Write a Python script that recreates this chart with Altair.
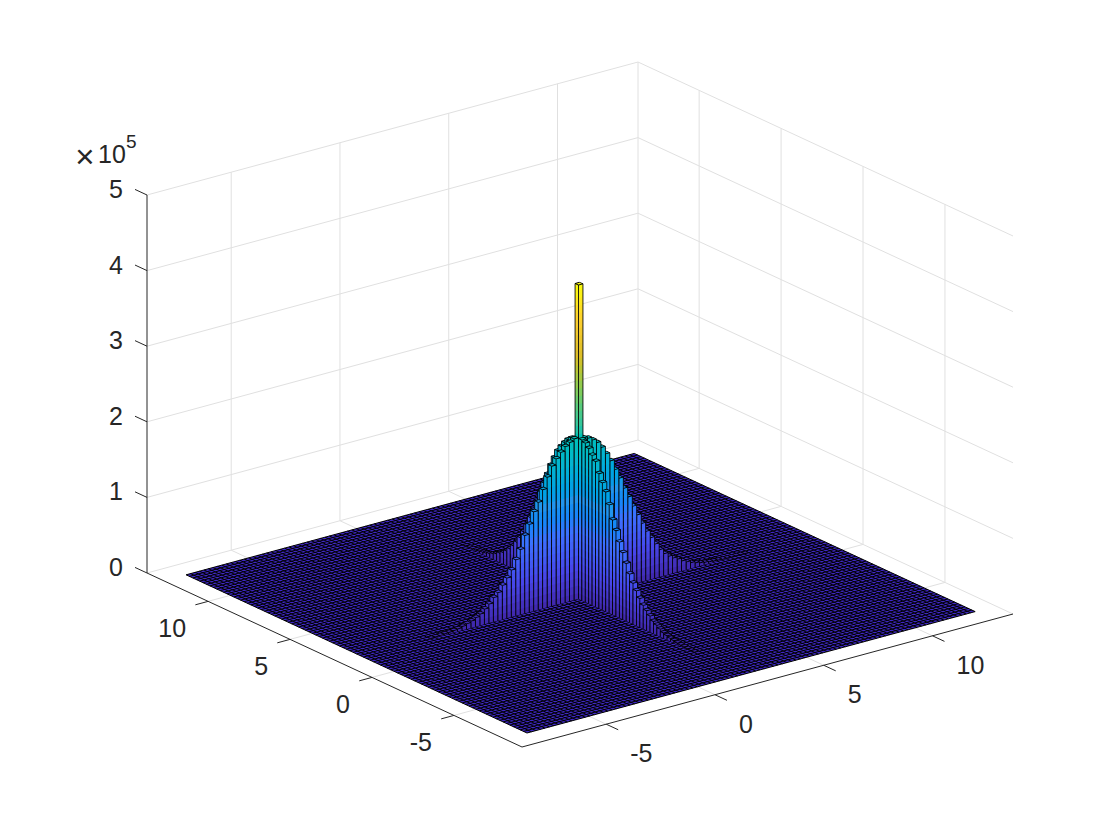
import altair as alt
import pandas as pd

# Heights (units of 1e5) of the bins along each arm of the cross, from the centre outward
arm_x_neg = [2.13,2.10,2.06,2.00,1.93,1.85,1.72,1.57,1.42,1.31,1.16,1.03,.86,.74,.62,.53,.45,.37,.32,.25,.20,.15,.12,.09,.07,.05,.034,.026,.02,.015,.011,.008,.005]
arm_y_neg = [2.12,2.10,2.05,1.98,1.92,1.78,1.68,1.58,1.43,1.25,1.13,1.00,.88,.76,.64,.54,.46,.38,.31,.26,.21,.16,.13,.10,.07,.055,.04,.03,.02,.014,.01,.008,.006,.004,.003]
arm_x_pos = [2.11,2.09,2.05,2.00,1.92,1.82,1.71,1.58,1.45,1.30,1.17,1.03,.90,.77,.65,.55,.45,.36,.29,.24,.20,.17,.13,.10,.075,.055,.04,.03,.021,.015,.011,.008,.006,.005,.004,.003,.002]
arm_y_pos = [2.10,2.08,2.04,1.98,1.91,1.83,1.72,1.60,1.46,1.32,1.18,1.04,.90,.78,.66,.55,.45,.37,.30,.24,.19,.15,.12,.09,.07,.05,.035,.027,.02,.015,.011,.008,.006]
spike = 4.15
N_BINS = 100
CENTRE_BIN = 48
z_ticks = [0, 1, 2, 3, 4, 5]
x_ticks = [-5, 0, 5, 10]
y_ticks = [10, 5, 0, -5]
parula_pos = [-1, -0.001, 0, 1/9, 2/9, 3/9, 4/9, 5/9, 6/9, 7/9, 8/9, 1]
parula = ["#000000", "#000000", "#3e26a8", "#4747eb", "#3e6fff", "#2796eb", "#08b4d0", "#31c69f",
          "#81cc59", "#dcbd29", "#fcce2e", "#f9fb0e"]

INK = "#262626"
GRID = "#e0e0e0"
FONT = "Liberation Sans"

# axes box projection
OX, OY = 522.0, 747.0
AX = (491.0, -133.0)
AY = (-375.0, -174.0)
ZPX = 75.6
F0 = (.0452, .0459)
F1 = (.958, .955)


def proj(fx, fy, z=0.0):
    return (OX + fx * AX[0] + fy * AY[0], OY + fx * AX[1] + fy * AY[1] - z * ZPX)


def xf(v):
    return .393 + .0443 * v


def yf(v):
    return .400 + .0437 * v


def fi(i):
    return F0[0] + (F1[0] - F0[0]) * i / N_BINS


def fj(j):
    return F0[1] + (F1[1] - F0[1]) * j / N_BINS


grid_rows, axis_rows, net_rows, face_rows = [], [], [], []
_c = [0]


def seg(rows, a, b):
    _c[0] += 1
    rows.append({"sx": a[0], "sy": a[1], "id": _c[0]})
    rows.append({"sx": b[0], "sy": b[1], "id": _c[0]})


def quad(rows, pts, v):
    xs = sorted({round(p[0], 3) for p in pts})
    if len(xs) < 2:
        return
    _c[0] += 1
    n = len(pts)
    for x in xs:
        ys = []
        for k in range(n):
            a, b = pts[k], pts[(k + 1) % n]
            lo, hi = min(a[0], b[0]), max(a[0], b[0])
            if lo - 1e-3 <= x <= hi + 1e-3:
                if abs(b[0] - a[0]) < 1e-6:
                    ys += [a[1], b[1]]
                else:
                    t = min(1, max(0, (x - a[0]) / (b[0] - a[0])))
                    ys.append(a[1] + t * (b[1] - a[1]))
        rows.append({"sx": x, "sy": min(ys), "sy2": max(ys), "id": _c[0], "v": v})


def edge(a, b, w=0.85):
    dx, dy = b[0] - a[0], b[1] - a[1]
    L = (dx * dx + dy * dy) ** .5 or 1
    nx, ny = -dy / L * w / 2, dx / L * w / 2
    quad(face_rows, [(a[0] + nx, a[1] + ny), (b[0] + nx, b[1] + ny),
                     (b[0] - nx, b[1] - ny), (a[0] - nx, a[1] - ny)], -1)


def bar(i, j, h):
    x0, x1, y0, y1 = fi(i), fi(i + 1), fj(j), fj(j + 1)
    step = .1
    z = 0.0
    while z < h - 1e-9:
        zt = min(h, z + step)
        zb = max(0, z - .025)
        mid = (z + zt) / 2 / spike
        quad(face_rows, [proj(x0, y1, zb), proj(x0, y0, zb), proj(x0, y0, zt), proj(x0, y1, zt)], mid)
        quad(face_rows, [proj(x0, y0, zb), proj(x1, y0, zb), proj(x1, y0, zt), proj(x0, y0, zt)], mid)
        z = zt
    quad(face_rows, [proj(x0, y0, h), proj(x1, y0, h), proj(x1, y1, h), proj(x0, y1, h)], 1.0 * h / spike)
    edge(proj(x0, y1, 0), proj(x0, y1, h))
    edge(proj(x0, y0, 0), proj(x0, y0, h))
    edge(proj(x1, y0, 0), proj(x1, y0, h))
    corners = [proj(x0, y0, h), proj(x1, y0, h), proj(x1, y1, h), proj(x0, y1, h)]
    for k in range(4):
        edge(corners[k], corners[(k + 1) % 4])


for z in z_ticks:
    seg(grid_rows, proj(0, 1, z), proj(1, 1, z))
    seg(grid_rows, proj(1, 1, z), proj(1, 0, z))
seg(grid_rows, proj(1, 1, 0), proj(1, 1, 5))
for v in x_ticks:
    seg(grid_rows, proj(xf(v), 0, 0), proj(xf(v), 1, 0))
    seg(grid_rows, proj(xf(v), 1, 0), proj(xf(v), 1, 5))
for v in y_ticks:
    seg(grid_rows, proj(0, yf(v), 0), proj(1, yf(v), 0))
    seg(grid_rows, proj(1, yf(v), 0), proj(1, yf(v), 5))

seg(axis_rows, proj(0, 1, 0), proj(0, 1, 5))
seg(axis_rows, proj(0, 1, 0), proj(0, 0, 0))
seg(axis_rows, proj(0, 0, 0), proj(1, 0, 0))
TX, TY = .026, .032
for z in z_ticks:
    seg(axis_rows, proj(0, 1, z), proj(0, 1 + TY, z))
for v in x_ticks:
    seg(axis_rows, proj(xf(v), 0), proj(xf(v), -TY))
for v in y_ticks:
    seg(axis_rows, proj(0, yf(v)), proj(-TX, yf(v)))

corners = [proj(F0[0], F0[1]), proj(F1[0], F0[1]), proj(F1[0], F1[1]), proj(F0[0], F1[1])]
floor_rows = []
quad(floor_rows, corners, 0)
for k in range(N_BINS + 1):
    seg(net_rows, proj(fi(k), F0[1]), proj(fi(k), F1[1]))
    seg(net_rows, proj(F0[0], fj(k)), proj(F1[0], fj(k)))

for n in range(len(arm_x_pos), 0, -1):
    bar(CENTRE_BIN + n, CENTRE_BIN, arm_x_pos[n - 1])
    if n <= len(arm_y_pos):
        bar(CENTRE_BIN, CENTRE_BIN + n, arm_y_pos[n - 1])
bar(CENTRE_BIN, CENTRE_BIN, spike)
for n in range(1, len(arm_y_neg) + 1):
    if n <= len(arm_x_neg):
        bar(CENTRE_BIN - n, CENTRE_BIN, arm_x_neg[n - 1])
    bar(CENTRE_BIN, CENTRE_BIN - n, arm_y_neg[n - 1])

label_rows = []
for z in z_ticks:
    p = proj(0, 1, z)
    label_rows.append({"sx": p[0] - 24, "sy": p[1] - 5, "t": str(z), "a": "right"})
for v in x_ticks:
    p = proj(xf(v), 0)
    label_rows.append({"sx": p[0] + 24, "sy": p[1] + 30, "t": str(v), "a": "left"})
for v in y_ticks:
    p = proj(0, yf(v))
    label_rows.append({"sx": p[0] - 22, "sy": p[1] + 28, "t": str(v), "a": "right"})

X = alt.X("sx:Q", axis=None, scale=alt.Scale(domain=[8, 1112], nice=False, zero=False))
Y = alt.Y("sy:Q", axis=None, scale=alt.Scale(domain=[828, 8], nice=False, zero=False))


def lines(rows, color, width):
    return alt.Chart(pd.DataFrame(rows)).mark_line(color=color, strokeWidth=width, opacity=1).encode(
        x=X, y=Y, detail="id:N")


def text_layer(rows, align):
    return alt.Chart(pd.DataFrame(rows)).mark_text(
        font=FONT, fontSize=25, color=INK, align=align, baseline="middle").encode(x=X, y=Y, text="t:N")


grid_layer = lines(grid_rows, GRID, 1)
axis_layer = lines(axis_rows, INK, 1)
floor_layer = alt.Chart(pd.DataFrame(floor_rows)).mark_area(
    color="#3f28c4", opacity=1, orient="vertical").encode(x=X, y=Y, y2="sy2:Q")
net_layer = lines(net_rows, "#000000", 1.0)
bars_layer = alt.Chart(pd.DataFrame(face_rows)).mark_area(opacity=1, orient="vertical").encode(
    x=X, y=Y, y2="sy2:Q", detail="id:Q",
    color=alt.Color("v:Q", legend=None, scale=alt.Scale(domain=parula_pos, range=parula)))

left = [r for r in label_rows if r["a"] == "left"]
right = [r for r in label_rows if r["a"] == "right"]
exp10 = alt.Chart(pd.DataFrame({"sx": [98], "sy": [155], "t": ["10"]})).mark_text(
    font=FONT, fontSize=25, color=INK, align="left", baseline="middle").encode(x=X, y=Y, text="t:N")
expx = alt.Chart(pd.DataFrame({"sx": [85], "sy": [158], "t": ["×"]})).mark_text(
    font=FONT, fontSize=33, color=INK, align="center", baseline="middle").encode(x=X, y=Y, text="t:N")
exp5 = alt.Chart(pd.DataFrame({"sx": [126], "sy": [142], "t": ["5"]})).mark_text(
    font=FONT, fontSize=19, color=INK, align="left", baseline="middle").encode(x=X, y=Y, text="t:N")

chart = alt.layer(grid_layer, axis_layer, floor_layer, net_layer, bars_layer,
                  text_layer(left, "left"), text_layer(right, "right"), exp10, expx, exp5).properties(
    width=1104, height=820, padding=0, autosize=alt.AutoSizeParams(type="none"),
    background="white").configure_view(stroke=None)

chart.save("out.html", embed_options={"renderer": "svg", "actions": False})
